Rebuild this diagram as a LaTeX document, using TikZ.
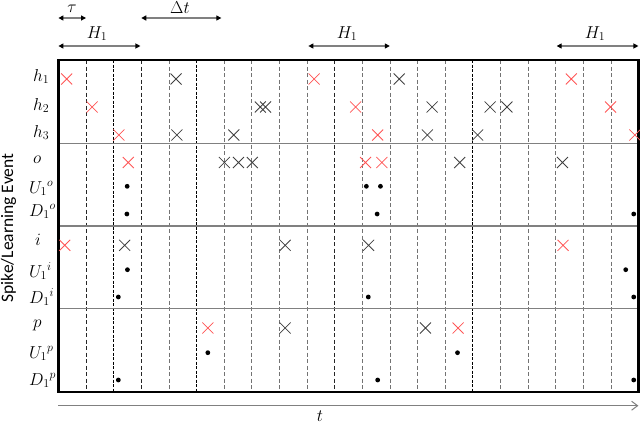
\documentclass[tikz,border=0pt]{standalone}
\usepackage{fontspec}
\setsansfont{Carlito}
\usetikzlibrary{arrows.meta}
\definecolor{markred}{RGB}{255,85,85}
\definecolor{markgray}{RGB}{64,64,64}
\definecolor{axisgray}{RGB}{128,128,128}
\begin{document}
\begin{tikzpicture}[x=27.62pt,y=-1pt,
  redx/.pic={\draw[markred,line width=0.8pt] (-5.5pt,-5.5pt)--(5.5pt,5.5pt) (-5.5pt,5.5pt)--(5.5pt,-5.5pt);},
  blackx/.pic={\draw[markgray,line width=0.8pt] (-5.5pt,-5.5pt)--(5.5pt,5.5pt) (-5.5pt,5.5pt)--(5.5pt,-5.5pt);},
  lab/.style={anchor=base west,inner sep=0pt,font=\fontsize{17}{19}\selectfont},
  toplab/.style={anchor=base,inner sep=0pt,font=\fontsize{16.5}{18}\selectfont},
  thinv/.style={black!55,line width=0.6pt,dash pattern=on 4pt off 2.5pt},
  darkv/.style={black!85,line width=0.6pt,dash pattern=on 4pt off 2.5pt},
  thickv/.style={black,line width=1pt,dash pattern=on 3pt off 1.5pt},
  sepline/.style={black!50,line width=1.2pt},
  framebox/.style={black,line width=2.4pt},
  dimarrow/.style={axisgray,line width=1.3pt,{Triangle[length=5pt,width=5pt,color=black]}-{Triangle[length=5pt,width=5pt,color=black]}},
  timeaxis/.style={axisgray,line width=1.1pt,-{Straight Barb[length=6pt,width=9pt,line width=1pt]}},
]
\useasboundingbox (-2.1144,0) rectangle (21.0572,423);
% grid lines
\foreach \u in {4,6,7,8,9,11,12,13,14,16,17,18,19,20}
  \draw[thinv] (\u,60) -- (\u,391.7);
\foreach \u in {1,3,10}
  \draw[darkv] (\u,60) -- (\u,391.7);
\foreach \u in {2,5,15}
  \draw[thickv] (\u,60) -- (\u,391.7);
\foreach \y in {143.3,226,308.7}
  \draw[sepline] (0,\y) -- (21,\y);
\draw[framebox] (0,60) rectangle (21,391.7);
% spikes
\foreach \u/\y in {0.30/79,9.26/79,18.57/79,
  1.22/107,10.76/107,19.99/107,
  2.19/135,11.56/135,20.87/135,
  2.53/162.5,11.12/162.5,11.71/162.5,
  0.23/245.3,18.27/245.3,
  5.41/328,14.47/328}
  \pic at (\u,\y) {redx};
\foreach \u/\y in {4.26/79,12.34/79,
  7.31/107,7.50/107,13.53/107,15.63/107,16.24/107,
  4.29/135,6.35/135,13.36/135,15.18/135,
  6.01/162.5,6.52/162.5,7.02/162.5,14.53/162.5,18.25/162.5,
  2.40/245.3,8.21/245.3,11.23/245.3,
  8.21/328,13.29/328}
  \pic at (\u,\y) {blackx};
% learning events
\foreach \u/\y in {2.49/186.3,11.15/186.3,11.66/186.3,
  2.48/214,11.54/214,20.83/214,
  2.50/269.7,20.54/269.7,
  2.17/297,11.22/297,20.83/297,
  5.41/352.7,14.45/352.7,
  2.17/380,11.56/380,20.83/380}
  \fill[black] (\u,\y) circle[radius=2.4pt];
% row labels
\node[lab] (lh1) at (-0.919,81) {$h_1$};
\node[lab] (lh2) at (-0.919,110) {$h_2$};
\node[lab] (lh3) at (-0.919,137) {$h_3$};
\node[lab] (lo) at (-0.919,163) {$o$};
\node[lab] (luo) at (-1.064,193) {$U_1{}^{o}$};
\node[lab] (ldo) at (-1.064,216) {$D_1{}^{o}$};
\node[lab] (li) at (-0.847,245) {$i$};
\node[lab] (lui) at (-1.064,277) {$U_1{}^{i}$};
\node[lab] (ldi) at (-1.064,303) {$D_1{}^{i}$};
\node[lab] (lp) at (-0.919,327) {$p$};
\node[lab] (lup) at (-1.064,358) {$U_1{}^{p}$};
\node[lab] (ldp) at (-1.064,385) {$D_1{}^{p}$};
\node[rotate=90,inner sep=0pt,font=\sffamily\fontsize{17.5}{20}\selectfont] (ylab) at (-1.807,228) {Spike/Learning Event};
% top dimension arrows
\coordinate (tauL) at (0,18);
\coordinate (tauR) at (1,18);
\draw[dimarrow] (tauL) -- (tauR);
\node[toplab] (tau) at (0.49,12.5) {$\tau$};
\coordinate (dtL) at (3,18);
\coordinate (dtR) at (5.9,18);
\draw[dimarrow] (dtL) -- (dtR);
\node[toplab] (dt) at (4.40,13.5) {$\Delta t$};
\coordinate (hAL) at (0,46);
\coordinate (hAR) at (2.97,46);
\draw[dimarrow] (hAL) -- (hAR);
\node[toplab] (hA) at (1.40,38) {$H_1$};
\coordinate (hBL) at (9.05,46);
\coordinate (hBR) at (12.0,46);
\draw[dimarrow] (hBL) -- (hBR);
\node[toplab] (hB) at (10.45,38) {$H_1$};
\coordinate (hCL) at (18.04,46);
\coordinate (hCR) at (21.0,46);
\draw[dimarrow] (hCL) -- (hCR);
\node[toplab] (hC) at (19.43,38) {$H_1$};
% time axis
\coordinate (tS) at (0,405.7);
\coordinate (tE) at (21.0,405.7);
\draw[timeaxis] (tS) -- (tE);
\node[toplab] (tl) at (9.47,421) {$t$};
\end{tikzpicture}
\end{document}
